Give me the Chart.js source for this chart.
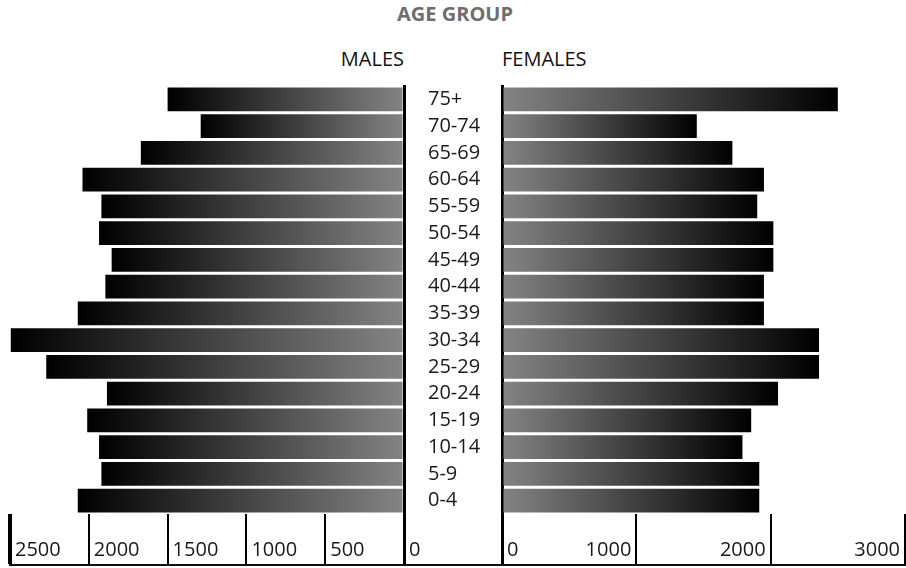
<!DOCTYPE html>
<html><head><meta charset="utf-8">
<script src="https://cdn.jsdelivr.net/npm/chart.js@4.4.1/dist/chart.umd.min.js"></script>
<style>
html,body{margin:0;padding:0;background:#fff;}
#wrap{position:relative;width:906px;height:568px;overflow:hidden;font-family:'Open Sans',sans-serif;}
canvas{position:absolute;top:0;}
#cm{left:0;}
#cf{left:404px;}
.t{position:absolute;line-height:20px;font-size:20px;white-space:nowrap;}
</style></head><body>
<div id="wrap">
<div class="t" style="left:355px;width:200px;top:4px;text-align:center;font-weight:700;color:#6e6e6e;">AGE GROUP</div>
<div class="t" style="left:0;width:404px;top:49px;text-align:right;color:#111;">MALES</div>
<div class="t" style="left:502px;top:49px;color:#111;">FEMALES</div>
<canvas id="cm" width="430" height="568"></canvas>
<canvas id="cf" width="502" height="568"></canvas>
<div style="position:absolute;left:9px;top:564px;width:897px;height:2px;background:#111;"></div>
</div>
<script>
const ageGroups = ['75+','70-74','65-69','60-64','55-59','50-54','45-49','40-44','35-39','30-34','25-29','20-24','15-19','10-14','5-9','0-4'];
const males   = [1500, 1290, 1670, 2040, 1920, 1935, 1855, 1895, 2070, 2495, 2270, 1885, 2010, 1935, 1920, 2070];
const females = [2500, 1450, 1715, 1950, 1900, 2020, 2020, 1950, 1950, 2360, 2360, 2055, 1855, 1790, 1915, 1915];
const maleTicks = [0, 500, 1000, 1500, 2000, 2500];
const femaleTicks = [0, 1000, 2000, 3000];

const FONT = {family: "'Open Sans', sans-serif", size: 20};
const TEXT = '#1a1a1a';
const TICK_LEN = 50;
const TICK_PAD = -26;

function makeGrad(inner, outer) {
  return function(ctx) {
    const chart = ctx.chart;
    const xs = chart.scales && chart.scales.x;
    if (!chart.chartArea || !xs || ctx.raw == null) return inner;
    const x0 = xs.getPixelForValue(0), x1 = xs.getPixelForValue(ctx.raw);
    const g = chart.ctx.createLinearGradient(x0, 0, x1, 0);
    g.addColorStop(0, inner);
    g.addColorStop(1, outer);
    return g;
  };
}
function tickW(maxV) {
  return ctx => {
    const v = ctx.tick ? ctx.tick.value : null;
    if (v === 0) return 3;
    if (v === maxV && maxV === 2500) return 4;
    return 2;
  };
}

const common = {
  responsive: false,
  animation: false,
  indexAxis: 'y',
  plugins: {legend: {display: false}, tooltip: {enabled: false}}
};

new Chart(document.getElementById('cm'), {
  type: 'bar',
  data: {labels: ageGroups, datasets: [{data: males, backgroundColor: makeGrad('#848484', '#000000'), borderWidth: 0, barPercentage: 0.89, categoryPercentage: 1.0}]},
  options: Object.assign({}, common, {
    layout: {padding: {left: 10, top: 86, right: 0, bottom: 0}},
    scales: {
      x: {
        type: 'linear', reverse: true, min: 0, max: 2500, position: 'bottom',
        afterBuildTicks: s => { s.ticks = maleTicks.map(v => ({value: v})); },
        afterFit: s => { s.height = 54; },
        border: {display: false},
        grid: {display: true, drawOnChartArea: false, drawTicks: true, tickLength: TICK_LEN, tickColor: '#000', lineWidth: tickW(2500), tickWidth: tickW(2500)},
        ticks: {align: 'start', labelOffset: 5, padding: TICK_PAD, font: FONT, color: TEXT, autoSkip: false, maxRotation: 0,
          callback: v => String(v)}
      },
      y: {
        type: 'category', position: 'right', z: 1,
        afterFit: s => { s.width = 26; },
        border: {display: true, color: '#000', width: 3},
        grid: {display: false},
        ticks: {display: false}
      }
    }
  })
});

const zeroLabel = {
  id: 'zeroLabel',
  afterDraw(chart) {
    const xs = chart.scales.x;
    const c = chart.ctx;
    c.save();
    c.font = "20px 'Open Sans', sans-serif";
    c.fillStyle = TEXT;
    c.textAlign = 'left';
    c.textBaseline = 'middle';
    c.fillText(String(femaleTicks[0]), xs.getPixelForValue(femaleTicks[0]) + 5, xs.top + TICK_LEN + TICK_PAD + 12);
    c.restore();
  }
};

new Chart(document.getElementById('cf'), {
  type: 'bar',
  data: {labels: ageGroups, datasets: [{data: females, backgroundColor: makeGrad('#848484', '#000000'), borderWidth: 0, barPercentage: 0.89, categoryPercentage: 1.0}]},
  options: Object.assign({}, common, {
    layout: {padding: {left: 24, top: 86, right: 1, bottom: 0}},
    scales: {
      x: {
        type: 'linear', min: 0, max: 3000, position: 'bottom',
        afterBuildTicks: s => { s.ticks = femaleTicks.map(v => ({value: v})); },
        afterFit: s => { s.height = 54; },
        border: {display: false},
        grid: {display: true, drawOnChartArea: false, drawTicks: true, tickLength: TICK_LEN, tickColor: '#000', lineWidth: tickW(3000), tickWidth: tickW(3000)},
        ticks: {align: 'end', labelOffset: -5, padding: TICK_PAD, font: FONT, color: TEXT, autoSkip: false, maxRotation: 0,
          callback: v => (v === 0 ? '' : String(v))}
      },
      y: {
        type: 'category', position: 'left', z: 1,
        afterFit: s => { s.width = 74; },
        border: {display: true, color: '#000', width: 3},
        grid: {display: false},
        ticks: {crossAlign: 'far', padding: 0, font: FONT, color: TEXT, autoSkip: false}
      }
    }
  }),
  plugins: [zeroLabel]
});
</script>
</body></html>
